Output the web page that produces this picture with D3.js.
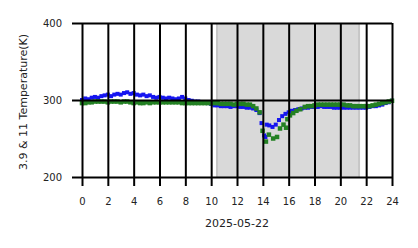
<!DOCTYPE html>
<html lang="en">
	<head>
		<meta charset="utf-8">
		<title>3.9 &amp; 11 Temperature</title>
		<script type="text/javascript" src="https://cdn.jsdelivr.net/npm/d3@7"></script>
		<style type="text/css">
			body { margin: 0; background: #fff; }
			text { font-family: "DejaVu Sans", sans-serif; font-size: 11px; fill: #222; }
		</style>
	</head>
	<body>
		<script type="text/javascript">

			//Axis ticks
			let hourTicks = [0, 2, 4, 6, 8, 10, 12, 14, 16, 18, 20, 22, 24];
			let tempTicks = [200, 300, 400];
			let dateLabel = "2025-05-22";
			let yLabel = "3.9 & 11 Temperature(K)";

			//Shaded period (hours)
			let shade = [10.45, 21.45];

			//3.9 um channel, [hour, K]
			let blueReadings = [
				[0.0, 300], [0.25, 302], [0.5, 301], [0.75, 303], [1.0, 304], [1.25, 303], [1.5, 305], [1.75, 306],
				[2.0, 307], [2.25, 305], [2.5, 307], [2.75, 308], [3.0, 307], [3.25, 309], [3.5, 310], [3.75, 308],
				[4.0, 309], [4.25, 307], [4.5, 306], [4.75, 307], [5.0, 305], [5.25, 306], [5.5, 304], [5.75, 303],
				[6.0, 304], [6.25, 303], [6.5, 302], [6.75, 303], [7.0, 302], [7.25, 301], [7.5, 302], [7.75, 304],
				[8.0, 302], [8.25, 300], [8.5, 299], [8.75, 298], [9.0, 298], [9.25, 297], [9.5, 297], [9.75, 296],
				[10.0, 295], [10.25, 293], [10.5, 293], [10.75, 292], [11.0, 292], [11.25, 292], [11.5, 291], [11.75, 292],
				[12.0, 292], [12.25, 291], [12.5, 291], [12.75, 290], [13.0, 290], [13.25, 289], [13.5, 287], [13.75, 283],
				[13.9, 270], [14.1, 254], [14.2, 252], [14.3, 268], [14.5, 267], [14.75, 265], [15.0, 268], [15.25, 274],
				[15.5, 279], [15.75, 282], [16.0, 284], [16.25, 286], [16.5, 287], [16.75, 288], [17.0, 289], [17.25, 290],
				[17.5, 290], [17.75, 291], [18.0, 291], [18.25, 291], [18.5, 292], [18.75, 291], [19.0, 291], [19.25, 291],
				[19.5, 290], [19.75, 290], [20.0, 290], [20.25, 290], [20.5, 290], [20.75, 290], [21.0, 290], [21.25, 290],
				[21.5, 290], [21.75, 290], [22.0, 290], [22.25, 291], [22.5, 292], [22.75, 292], [23.0, 293], [23.25, 294],
				[23.5, 296], [23.75, 297], [24.0, 299]
			];

			//11 um channel, [hour, K]
			let greenReadings = [
				[0.0, 296], [0.25, 296], [0.5, 297], [0.75, 297], [1.0, 298], [1.25, 298], [1.5, 298], [1.75, 298],
				[2.0, 297], [2.25, 298], [2.5, 298], [2.75, 298], [3.0, 297], [3.25, 298], [3.5, 298], [3.75, 297],
				[4.0, 296], [4.25, 297], [4.5, 296], [4.75, 296], [5.0, 297], [5.25, 296], [5.5, 297], [5.75, 297],
				[6.0, 297], [6.25, 297], [6.5, 297], [6.75, 297], [7.0, 297], [7.25, 297], [7.5, 297], [7.75, 296],
				[8.0, 296], [8.25, 296], [8.5, 296], [8.75, 296], [9.0, 296], [9.25, 296], [9.5, 296], [9.75, 296],
				[10.0, 296], [10.25, 296], [10.5, 296], [10.75, 295], [11.0, 295], [11.25, 295], [11.5, 295], [11.75, 294],
				[12.0, 295], [12.25, 295], [12.5, 295], [12.75, 294], [13.0, 294], [13.25, 292], [13.5, 289], [13.75, 284],
				[13.98, 260], [14.24, 246], [14.47, 255], [14.8, 250], [15.1, 252], [15.33, 263], [15.6, 268], [15.8, 264],
				[15.9, 275], [16.1, 280], [16.35, 283], [16.6, 286], [16.9, 288], [17.25, 291], [17.5, 292], [17.75, 292],
				[18.0, 293], [18.25, 294], [18.5, 294], [18.75, 294], [19.0, 294], [19.25, 294], [19.5, 294], [19.75, 294],
				[20.0, 294], [20.25, 294], [20.5, 293], [20.75, 293], [21.0, 292], [21.25, 292], [21.5, 292], [21.75, 292],
				[22.0, 292], [22.25, 292], [22.5, 293], [22.75, 294], [23.0, 295], [23.25, 296], [23.5, 297], [23.75, 298],
				[24.0, 299]
			];

			//Width and height
			let w = 418;
			let h = 248;
			let plotLeft = 82, plotRight = 392, plotTop = 23, plotBottom = 177;

			let x = d3.scaleLinear().domain([0, 24]).range([plotLeft, plotRight]);
			let y = d3.scaleLinear().domain([200, 400]).range([plotBottom, plotTop]);

			//Create SVG element
			let svg = d3.select("body")
						.append("svg")
						  .attr("width", w)
						  .attr("height", h);

			//Shaded period
			svg.append("rect")
				.attr("x", x(shade[0]))
				.attr("y", plotTop)
				.attr("width", x(shade[1]) - x(shade[0]))
				.attr("height", plotBottom - plotTop)
				.style("fill", "#d9d9d9");
			svg.selectAll("line.edge")
				.data(shade)
				.enter()
			  .append("line")
				.attr("class", "edge")
				.attr("x1", d => x(d)).attr("x2", d => x(d))
				.attr("y1", plotTop).attr("y2", plotBottom)
				.style("stroke", "#c6c6c6")
				.style("stroke-width", 2);

			//Markers: blue first, green on top
			let bs = 4, gs = 4.5;
			svg.selectAll("rect.blue")
				.data(blueReadings)
				.enter()
			  .append("rect")
				.attr("class", "blue")
				.attr("x", d => x(d[0]) - bs / 2)
				.attr("y", d => y(d[1]) - bs / 2)
				.attr("width", bs).attr("height", bs)
				.style("fill", "#1515f0");

			svg.selectAll("rect.green")
				.data(greenReadings)
				.enter()
			  .append("rect")
				.attr("class", "green")
				.attr("x", d => x(d[0]) - gs / 2)
				.attr("y", d => y(d[1]) - gs / 2)
				.attr("width", gs).attr("height", gs)
				.style("fill", "#238023");

			//Grid lines drawn over the data
			let xAxis = d3.axisBottom(x)
							.tickValues(hourTicks)
							.tickSize(-(plotBottom - plotTop) - 9)
							.tickSizeOuter(0)
							.tickPadding(12);
			let gx = svg.append("g")
						.attr("transform", `translate(0,${plotBottom + 9})`)
						.call(xAxis);

			let yAxis = d3.axisLeft(y)
							.tickValues(tempTicks)
							.tickSize(-(plotRight - plotLeft) - 10)
							.tickSizeOuter(0)
							.tickPadding(10);
			let gy = svg.append("g")
						.attr("transform", `translate(${plotLeft - 10},0)`)
						.call(yAxis);

			[gx, gy].forEach(g => {
				g.select(".domain").remove();
				g.selectAll(".tick line").style("stroke", "#000").style("stroke-width", 2);
				g.selectAll(".tick text").style("font-size", "10px").style("fill", "#222");
			});

			//Axis labels
			svg.append("text")
				.attr("x", (plotLeft + plotRight) / 2)
				.attr("y", 227)
				.attr("text-anchor", "middle")
				.text(dateLabel);

			svg.append("text")
				.attr("transform", `translate(27,${(plotTop + plotBottom) / 2 + 2}) rotate(-90)`)
				.attr("text-anchor", "middle")
				.text(yLabel);

		</script>
	</body>
</html>
